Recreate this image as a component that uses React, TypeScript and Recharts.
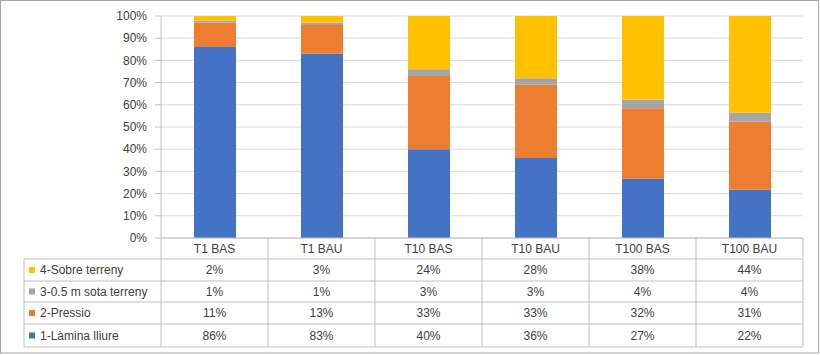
import React from 'react';
import { BarChart, Bar, XAxis, YAxis, CartesianGrid, Customized } from 'recharts';

const categories = ['T1 BAS', 'T1 BAU', 'T10 BAS', 'T10 BAU', 'T100 BAS', 'T100 BAU'];
const lamina = [86, 83, 40, 36, 27, 22];
const pressio = [11, 13, 33, 33, 32, 31];
const sota = [1, 1, 3, 3, 4, 4];
const sobre = [2, 3, 24, 28, 38, 44];
const yTicks = [0, 0.1, 0.2, 0.3, 0.4, 0.5, 0.6, 0.7, 0.8, 0.9, 1];

const series = [
  { key: 'sobre', name: '4-Sobre terreny', color: '#FFC000', values: sobre },
  { key: 'sota', name: '3-0.5 m sota terreny', color: '#A5A5A5', values: sota },
  { key: 'pressio', name: '2-Pressio', color: '#ED7D31', values: pressio },
  { key: 'lamina', name: '1-Làmina lliure', color: '#4472C4', values: lamina },
];

const data = categories.map((c, i) => ({
  cat: c,
  lamina: lamina[i],
  pressio: pressio[i],
  sota: sota[i],
  sobre: sobre[i],
}));

const W = 820;
const H = 355;
const LEFT = 161;
const RIGHT = 17;
const TOP = 16;
const PLOT_BOTTOM = 238;
const BAND = (W - LEFT - RIGHT) / categories.length;
const ROWS = [238, 259, 281, 302, 324, 347];
const TABLE_LEFT = 24;
const LINE = '#BFBFBF';
const TEXT = '#404040';
const FONT = 'Liberation Sans, Arial, sans-serif';
const FS = 12;

const TableTick = (props: any) => {
  const { x, payload, index } = props;
  const left = x - BAND / 2;
  const right = x + BAND / 2;
  const i = index as number;
  return (
    <g>
      <line x1={left} x2={left} y1={ROWS[0]} y2={ROWS[5]} stroke={LINE} />
      {i === categories.length - 1 && (
        <line x1={right} x2={right} y1={ROWS[0]} y2={ROWS[5]} stroke={LINE} />
      )}
      {ROWS.slice(1).map((ry, k) => (
        <line key={k} x1={left} x2={right} y1={ry} y2={ry} stroke={LINE} />
      ))}
      <text x={x} y={(ROWS[0] + ROWS[1]) / 2} textAnchor="middle" dominantBaseline="central"
        fontSize={FS} fontFamily={FONT} fill={TEXT}>{payload.value}</text>
      {series.map((s, k) => (
        <text key={s.key} x={x} y={(ROWS[k + 1] + ROWS[k + 2]) / 2} textAnchor="middle"
          dominantBaseline="central" fontSize={FS} fontFamily={FONT} fill={TEXT}>
          {s.values[i]}%
        </text>
      ))}
    </g>
  );
};

const LeftColumn = () => (
  <g>
    <line x1={TABLE_LEFT} x2={TABLE_LEFT} y1={ROWS[1]} y2={ROWS[5]} stroke={LINE} />
    {ROWS.slice(1).map((ry, k) => (
      <line key={k} x1={TABLE_LEFT} x2={LEFT} y1={ry} y2={ry} stroke={LINE} />
    ))}
    {series.map((s, k) => {
      const cy = (ROWS[k + 1] + ROWS[k + 2]) / 2;
      return (
        <g key={s.key}>
          <rect x={29} y={cy - 3} width={6} height={6} fill={s.color} />
          <text x={40} y={cy} dominantBaseline="central" fontSize={FS} fontFamily={FONT} fill={TEXT}>
            {s.name}
          </text>
        </g>
      );
    })}
    <rect x={0.5} y={0.5} width={W - 2} height={H - 2.5} fill="none" stroke="#A6A6A6" />
  </g>
);

export default function App() {
  return (
    <div style={{ position: 'fixed', left: 0, top: 0, width: W, height: H, background: '#fff' }}>
      <BarChart
        width={W}
        height={H}
        data={data}
        stackOffset="expand"
        margin={{ top: TOP, right: RIGHT, left: 0, bottom: 0 }}
      >
        <CartesianGrid vertical={false} stroke="#D9D9D9" />
        <XAxis
          dataKey="cat"
          height={H - PLOT_BOTTOM}
          tickLine={false}
          axisLine={{ stroke: LINE }}
          tick={<TableTick />}
          interval={0}
        />
        <YAxis
          width={LEFT}
          domain={[0, 1]}
          ticks={yTicks}
          tickFormatter={(v: number) => `${Math.round(v * 100)}%`}
          tickSize={6}
          tickMargin={8}
          tickLine={{ stroke: LINE }}
          axisLine={{ stroke: LINE }}
          tick={{ fontSize: FS, fontFamily: FONT, fill: TEXT }}
          interval={0}
        />
        <Bar dataKey="lamina" stackId="a" fill="#4472C4" barSize={42} isAnimationActive={false} />
        <Bar dataKey="pressio" stackId="a" fill="#ED7D31" barSize={42} isAnimationActive={false} />
        <Bar dataKey="sota" stackId="a" fill="#A5A5A5" barSize={42} isAnimationActive={false} />
        <Bar dataKey="sobre" stackId="a" fill="#FFC000" barSize={42} isAnimationActive={false} />
        <Customized component={LeftColumn} />
      </BarChart>
    </div>
  );
}
